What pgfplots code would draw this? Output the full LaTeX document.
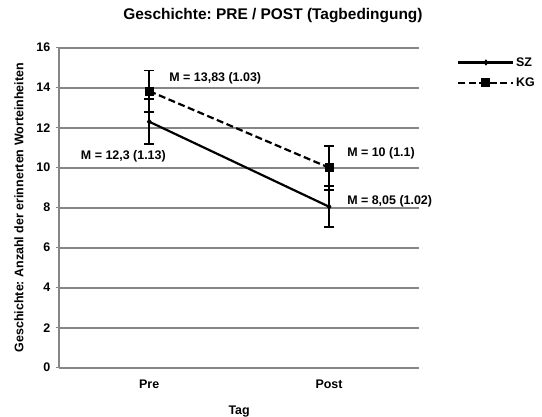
\documentclass[border=0pt]{standalone}
\usepackage{pgfplots}
\pgfplotsset{compat=1.18}
\usepackage{fontspec}
\setmainfont{Liberation Sans}
\definecolor{gridgray}{RGB}{134,134,134}

\newcommand{\lblfont}{\bfseries\fontsize{12.5}{14}\selectfont}

\begin{document}
\frenchspacing
\begin{tikzpicture}
\useasboundingbox (-59.3bp,-49.3bp) rectangle (482.7bp,367.7bp);
\begin{axis}[
  scale only axis,
  width=359.7bp, height=320bp,
  xmin=0, xmax=2,
  ymin=0, ymax=16,
  xtick={0.5,1.5},
  xticklabels={Pre,Post},
  ytick={0,2,...,16},
  axis x line=bottom,
  axis y line=left,
  axis line style={-, draw=gridgray, line width=1.7bp},
  ymajorgrids,
  grid style={draw=gridgray, line width=1.7bp},
  tick align=outside,
  major tick length=3.5bp,
  ytick style={draw=gridgray, line width=1.4bp},
  xtick style={draw=none},
  /pgf/number format/assume math mode=true,
  tick label style={font=\lblfont},
  xticklabel style={yshift=-5bp},
  yticklabel style={xshift=-2bp},
  label style={font=\lblfont},
  xlabel={Tag},
  ylabel={Geschichte: Anzahl der erinnerten Worteinheiten},
  xlabel style={at={(axis description cs:0.5,-0.138)}, anchor=center},
  ylabel style={at={(axis description cs:-0.112,0.5)}, anchor=center},
  every axis title shift=0pt,
  title={Geschichte: PRE / POST (Tagbedingung)},
  title style={font=\bfseries\fontsize{15.5}{17}\selectfont, at={(axis description cs:0.594,1.101)}, anchor=center},
  legend style={draw=none, fill=none, font=\lblfont,
    at={(axis description cs:1.106,0.975)}, anchor=north west,
    inner sep=0pt, row sep=7bp,
    nodes={inner sep=1.5bp}},
  legend cell align=left,
  legend image code/.code={
    \draw[#1, mark=none] (0bp,0bp) -- (55bp,0bp);
    \draw[#1, solid, only marks] plot coordinates {(27.5bp,0bp)};
  },
  clip=false,
]
% SZ group
\addplot[black, line width=2.2bp, mark=diamond*, mark size=2.4bp,
  mark options={line width=1bp},
  error bars/.cd, y dir=both, y explicit,
  error bar style={line width=1.8bp, black, solid},
  error mark options={rotate=90, mark size=5bp, line width=1.8bp, solid}]
  table[x=x, y=y, y error=e] {
x   y     e
0.5 12.30 1.13
1.5 8.05  1.02
};
\addlegendentry{SZ}
% KG group
\addplot[black, line width=2.2bp, dash pattern=on 7bp off 3.5bp, mark=square*, mark size=4bp,
  mark options={solid, line width=1bp},
  error bars/.cd, y dir=both, y explicit,
  error bar style={line width=1.8bp, black, solid},
  error mark options={rotate=90, mark size=5bp, line width=1.8bp, solid}]
  table[x=x, y=y, y error=e] {
x   y     e
0.5 13.83 1.03
1.5 10.00 1.10
};
\addlegendentry{KG}

\node[font=\lblfont, anchor=west, inner sep=0pt] at (axis cs:0.611,14.48) {M = 13,83 (1.03)};
\node[font=\lblfont, anchor=east, inner sep=0pt] at (axis cs:0.593,10.55) {M = 12,3 (1.13)};
\node[font=\lblfont, anchor=west, inner sep=0pt] at (axis cs:1.6,10.72) {M = 10 (1.1)};
\node[font=\lblfont, anchor=west, inner sep=0pt] at (axis cs:1.6,8.30) {M = 8,05 (1.02)};
\end{axis}
\end{tikzpicture}
\end{document}
